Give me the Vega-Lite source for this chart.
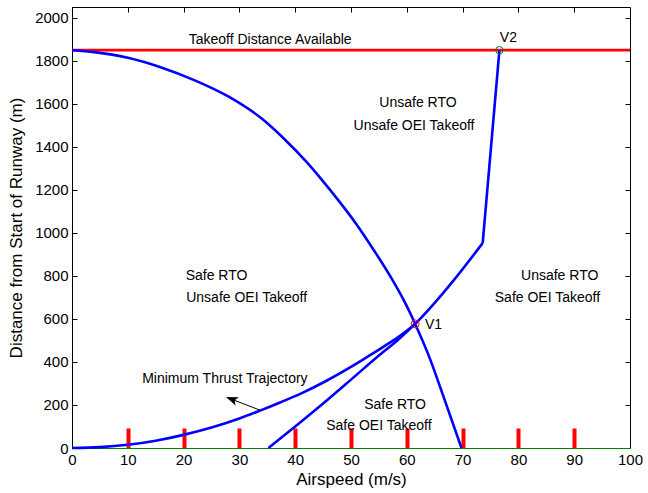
{
  "$schema": "https://vega.github.io/schema/vega-lite/v6.json",
  "width": 558,
  "height": 441,
  "autosize": {"type": "none"},
  "padding": {"left": 72, "top": 7, "right": 18, "bottom": 45},
  "config": {
    "view": {"stroke": "black", "strokeWidth": 1},
    "font": "Liberation Sans",
    "axis": {"grid": false, "domainColor": "black", "tickColor": "black", "labelColor": "black", "titleColor": "black", "labelFont": "Liberation Sans", "titleFont": "Liberation Sans", "labelFontSize": 15, "titleFontSize": 17, "titleFontWeight": "normal", "domainWidth": 1}
  },
  "datasets": {
    "tda": [{"x": 0, "y": 1850}, {"x": 100, "y": 1850}],
    "curves": [
      {"s": "rto", "x": 0, "y": 1850}, {"s": "rto", "x": 4, "y": 1841}, {"s": "rto", "x": 10, "y": 1815}, {"s": "rto", "x": 16, "y": 1770}, {"s": "rto", "x": 22, "y": 1710}, {"s": "rto", "x": 28, "y": 1635}, {"s": "rto", "x": 34, "y": 1532}, {"s": "rto", "x": 38, "y": 1438}, {"s": "rto", "x": 42.1, "y": 1328}, {"s": "rto", "x": 45, "y": 1240}, {"s": "rto", "x": 48.1, "y": 1140}, {"s": "rto", "x": 51, "y": 1040}, {"s": "rto", "x": 54.1, "y": 920}, {"s": "rto", "x": 57.4, "y": 783}, {"s": "rto", "x": 59.5, "y": 685}, {"s": "rto", "x": 61.5, "y": 577}, {"s": "rto", "x": 64, "y": 425}, {"s": "rto", "x": 66.5, "y": 245}, {"s": "rto", "x": 69.8, "y": 0},
      {"s": "min", "x": 0, "y": 0}, {"s": "min", "x": 5, "y": 4}, {"s": "min", "x": 10, "y": 15}, {"s": "min", "x": 15, "y": 34}, {"s": "min", "x": 20, "y": 61}, {"s": "min", "x": 25, "y": 95}, {"s": "min", "x": 30, "y": 137}, {"s": "min", "x": 33.8, "y": 175}, {"s": "min", "x": 37.4, "y": 213}, {"s": "min", "x": 41, "y": 253}, {"s": "min", "x": 45.7, "y": 314}, {"s": "min", "x": 50, "y": 377}, {"s": "min", "x": 53, "y": 425}, {"s": "min", "x": 56, "y": 474}, {"s": "min", "x": 58.9, "y": 524}, {"s": "min", "x": 61.5, "y": 577},
      {"s": "oei", "x": 35.2, "y": 0}, {"s": "oei", "x": 40, "y": 100}, {"s": "oei", "x": 45, "y": 207}, {"s": "oei", "x": 50, "y": 318}, {"s": "oei", "x": 55, "y": 430}, {"s": "oei", "x": 58.5, "y": 505}, {"s": "oei", "x": 61.5, "y": 577}, {"s": "oei", "x": 65, "y": 675}, {"s": "oei", "x": 68.5, "y": 783}, {"s": "oei", "x": 73.6, "y": 953}
    ],
    "oeiTop": [{"x": 73.6, "y": 953}, {"x": 76.6, "y": 1850}],
    "labels": [
      {"x": 35.5, "y": 1899, "t": "Takeoff Distance Available"},
      {"x": 78.2, "y": 1907, "t": "V2"},
      {"x": 62.0, "y": 1604, "t": "Unsafe RTO"},
      {"x": 61.3, "y": 1499, "t": "Unsafe OEI Takeoff"},
      {"x": 25.9, "y": 801, "t": "Safe RTO"},
      {"x": 31.3, "y": 699, "t": "Unsafe OEI Takeoff"},
      {"x": 87.4, "y": 798, "t": "Unsafe RTO"},
      {"x": 85.2, "y": 698, "t": "Safe OEI Takeoff"},
      {"x": 64.8, "y": 570, "t": "V1"},
      {"x": 27.4, "y": 321, "t": "Minimum Thrust Trajectory"},
      {"x": 57.9, "y": 201, "t": "Safe RTO"},
      {"x": 55.0, "y": 100, "t": "Safe OEI Takeoff"}
    ]
  },
  "encoding": {
    "x": {"field": "x", "type": "quantitative", "scale": {"domain": [0, 100], "nice": false, "zero": false}, "axis": null},
    "y": {"field": "y", "type": "quantitative", "scale": {"domain": [0, 2051], "nice": false, "zero": false}, "axis": null}
  },
  "resolve": {"axis": {"x": "independent", "y": "independent"}},
  "layer": [
    {
      "data": {"name": "tda"},
      "mark": {"type": "line", "color": "#ff0000", "strokeWidth": 2.8},
      "encoding": {
        "x": {"field": "x", "type": "quantitative", "scale": {"domain": [0, 100], "nice": false, "zero": false},
          "axis": {"orient": "bottom", "values": [0, 10, 20, 30, 40, 50, 60, 70, 80, 90, 100], "format": "d", "ticks": false, "title": "Airspeed (m/s)", "labelPadding": 4, "titlePadding": 4, "labelFlush": false}},
        "y": {"field": "y", "type": "quantitative", "scale": {"domain": [0, 2051], "nice": false, "zero": false},
          "axis": {"orient": "left", "values": [0, 200, 400, 600, 800, 1000, 1200, 1400, 1600, 1800, 2000], "format": "d", "ticks": false, "title": "Distance from Start of Runway (m)", "labelPadding": 4, "titlePadding": 9, "labelFlush": false}}
      }
    },
    {
      "data": {"name": "curves"},
      "mark": {"type": "line", "color": "#0000ff", "strokeWidth": 2.6, "interpolate": "monotone"},
      "encoding": {
        "detail": {"field": "s"},
        "x": {"field": "x", "type": "quantitative", "scale": {"domain": [0, 100], "nice": false, "zero": false},
          "axis": {"orient": "top", "offset": -441, "domain": true, "domainColor": "green", "values": [10, 20, 30, 40, 50, 60, 70, 80, 90], "labels": false, "ticks": true, "tickSize": 20, "tickWidth": 4, "tickColor": "red", "tickOpacity": 1, "title": null}},
        "y": {"field": "y", "type": "quantitative", "scale": {"domain": [0, 2051], "nice": false, "zero": false},
          "axis": {"orient": "right", "offset": -558, "domain": false, "values": [200, 400, 600, 800, 1000, 1200, 1400, 1600, 1800, 2000], "labels": false, "ticks": true, "tickSize": 5, "tickWidth": 1, "tickColor": "black", "tickOpacity": 1, "title": null}}
      }
    },
    {
      "data": {"name": "oeiTop"},
      "mark": {"type": "line", "color": "#0000ff", "strokeWidth": 2.6},
      "encoding": {
        "x": {"field": "x", "type": "quantitative", "scale": {"domain": [0, 100], "nice": false, "zero": false},
          "axis": {"orient": "bottom", "offset": -441, "domain": false, "values": [10, 20, 30, 40, 50, 60, 70, 80, 90], "labels": false, "ticks": true, "tickSize": 5, "tickWidth": 1, "tickColor": "black", "tickOpacity": 1, "title": null}},
        "y": {"field": "y", "type": "quantitative", "scale": {"domain": [0, 2051], "nice": false, "zero": false},
          "axis": {"orient": "left", "offset": -558, "domain": false, "values": [200, 400, 600, 800, 1000, 1200, 1400, 1600, 1800, 2000], "labels": false, "ticks": true, "tickSize": 5, "tickWidth": 1, "tickColor": "black", "tickOpacity": 1, "title": null}}
      }
    },
    {
      "data": {"values": [{"x": 33.8, "y": 175, "x2": 28.6, "y2": 227}]},
      "mark": {"type": "rule", "color": "black", "strokeWidth": 1},
      "encoding": {"x2": {"field": "x2"}, "y2": {"field": "y2"}}
    },
    {
      "data": {"values": [{"x": 28.6, "y": 227}]},
      "mark": {"type": "point", "shape": "M0,-1L0.75,1L0,0.55L-0.75,1Z", "filled": true, "color": "black", "size": 144, "angle": 291, "opacity": 1}
    },
    {
      "data": {"name": "labels"},
      "mark": {"type": "text", "font": "Liberation Sans", "fontSize": 14, "color": "black", "align": "center", "baseline": "middle"},
      "encoding": {"text": {"field": "t"}}
    },
    {
      "data": {"values": [{"x": 61.5, "y": 577, "c": "v1"}]},
      "mark": {"type": "point", "shape": "circle", "filled": false, "stroke": "#ff0000", "strokeWidth": 1, "size": 64, "opacity": 1}
    },
    {
      "data": {"values": [{"x": 76.6, "y": 1850, "c": "v2"}]},
      "mark": {"type": "point", "shape": "circle", "filled": false, "stroke": "#008000", "strokeWidth": 1, "size": 55, "opacity": 1}
    }
  ]
}
